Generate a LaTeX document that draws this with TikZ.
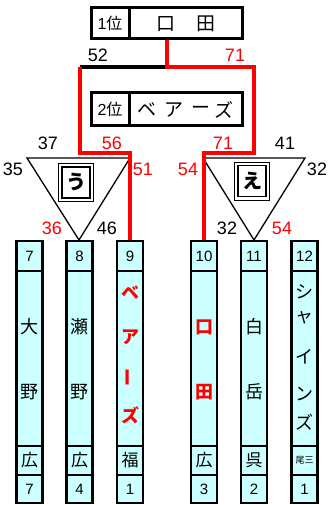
\documentclass[tikz,border=0pt]{standalone}
\usepackage{fontspec}
\setmainfont{Liberation Sans}
\newfontfamily\jp{Noto Sans CJK JP}
\definecolor{cellcyan}{HTML}{CCFFFF}
\definecolor{winred}{HTML}{FF0000}
\begin{document}
\begin{tikzpicture}[x=1pt,y=-1pt,
 lbl/.style={font=\fontsize{18}{18}\selectfont, inner sep=0pt},
 rlbl/.style={lbl,text=winred},
 hbox/.style={draw, line width=3pt, inner sep=0pt},
 cell/.style={draw, line width=2.5pt, fill=cellcyan, minimum width=26pt, inner sep=0pt},
 tri/.style={draw, line width=1.3pt, line join=miter},
 winline/.style={draw=winred, line width=4pt, line join=miter},
 loseline/.style={draw=black, line width=4pt},
 ch/.style={font=\jp\fontsize{18}{18}\selectfont, inner sep=0pt},
 rch/.style={font=\jp\bfseries\fontsize{18}{18}\selectfont, text=winred, inner sep=0pt},
 hch/.style={font=\jp\fontsize{19}{19}\selectfont, inner sep=0pt},
 num/.style={font=\fontsize{15}{15}\selectfont},
 outerbox/.style={draw, line width=0.9pt, minimum width=35pt, minimum height=38pt, inner sep=0pt},
 innerbox/.style={draw, line width=1.8pt, minimum width=28pt, minimum height=31pt, inner sep=0pt, font=\jp\bfseries\fontsize{20}{20}\selectfont},
]
\useasboundingbox (0,0) rectangle (328,505);

% ranking boxes
\node[hbox, minimum width=38pt, minimum height=31pt, font=\fontsize{16}{16}\selectfont] (r1) at (110,23.5) {1{\jp 位}};
\node[hbox, minimum width=113pt, minimum height=31pt] (w1) at (185.5,23.5) {};
\node[hch] (w1a) at (166,24) {口};
\node[hch] (w1b) at (206,24) {田};
\node[hbox, minimum width=38pt, minimum height=33pt, font=\fontsize{16}{16}\selectfont] (r2) at (110,109.5) {2{\jp 位}};
\node[hbox, minimum width=113pt, minimum height=33pt] (w2) at (185.5,109.5) {};
\node[hch] (w2a) at (147,110) {ベ};
\node[hch] (w2b) at (174,110) {ア};
\node[hch] (w2c) at (201,110) {ー};
\node[hch] (w2d) at (224,110) {ズ};

% team columns
\foreach \i/\x/\p/\s in {7/29.5/広/7, 8/79.5/広/4, 9/130/福/1, 10/204/広/3, 11/254/呉/2, 12/304.5/{\fontsize{9}{9}\selectfont 尾三}/1} {
  \node[cell, minimum height=30pt, num] (n\i) at (\x,256) {\i};
  \node[cell, minimum height=175pt] (m\i) at (\x,358.5) {};
  \node[cell, minimum height=29pt, font=\jp\fontsize{17}{17}\selectfont] (p\i) at (\x,460.5) {\p};
  \node[cell, minimum height=28pt, num] (s\i) at (\x,489) {\s};
}
% names
\node[ch] (t7a) at (29.5,327) {大};
\node[ch] (t7b) at (29.5,392) {野};
\node[ch] (t8a) at (79.5,327) {瀬};
\node[ch] (t8b) at (79.5,392) {野};
\node[rch] (t9a) at (130,293) {ベ};
\node[rch] (t9b) at (130,337) {ア};
\node[rch, rotate=90] (t9c) at (130,377) {ー};
\node[rch] (t9d) at (130,415) {ズ};
\node[rch] (t10a) at (204,327) {口};
\node[rch] (t10b) at (204,392) {田};
\node[ch] (t11a) at (254,327) {白};
\node[ch] (t11b) at (254,392) {岳};
\node[ch] (t12a) at (304.5,292) {シ};
\node[ch] (t12b) at (304.5,318) {ャ};
\node[ch] (t12c) at (304.5,357) {イ};
\node[ch] (t12d) at (304.5,394) {ン};
\node[ch] (t12e) at (304.5,422) {ズ};

% triangles
\coordinate (uL) at (27,158);
\coordinate (uR) at (130,158);
\coordinate (uB) at (79,240);
\coordinate (eL) at (203,158);
\coordinate (eR) at (305,158);
\coordinate (eB) at (254,240);
\draw[tri] (uL) -- (uR) -- (uB) -- cycle;
\draw[tri] (eL) -- (eR) -- (eB) -- cycle;
\node[outerbox] (ubox) at (76,182.5) {};
\node[innerbox] (uin) at (ubox.center) {う};
\node[outerbox] (ebox) at (252,181) {};
\node[innerbox] (ein) at (ebox.center) {え};

% bracket lines
\coordinate (j1) at (167,67);
\coordinate (aL) at (80,67);
\coordinate (aR) at (254,67);
\coordinate (bL) at (80,153);
\coordinate (bR) at (254,153);
\draw[loseline] (j1) -- (aL);
\draw[winline] (aL) -- (bL) -- (n9.north |- bL) -- (n9.north);
\draw[winline] (j1 |- w1.south) -- (j1) -- (aR) -- (bR) -- (n10.north |- bR) -- (n10.north);

% scores
\node[lbl] (l52) at (98,55) {52};
\node[rlbl] (l71a) at (235,55) {71};
\node[lbl] (l37) at (48,143) {37};
\node[rlbl] (l56) at (112,143) {56};
\node[lbl] (l35) at (13,169) {35};
\node[rlbl] (l51) at (143,169) {51};
\node[rlbl] (l36) at (52,228) {36};
\node[lbl] (l46) at (107,228) {46};
\node[rlbl] (l71b) at (223,143) {71};
\node[lbl] (l41) at (285,143) {41};
\node[rlbl] (l54a) at (188,169) {54};
\node[lbl] (l32a) at (317,169) {32};
\node[lbl] (l32b) at (227,228) {32};
\node[rlbl] (l54b) at (282,228) {54};
\end{tikzpicture}
\end{document}
